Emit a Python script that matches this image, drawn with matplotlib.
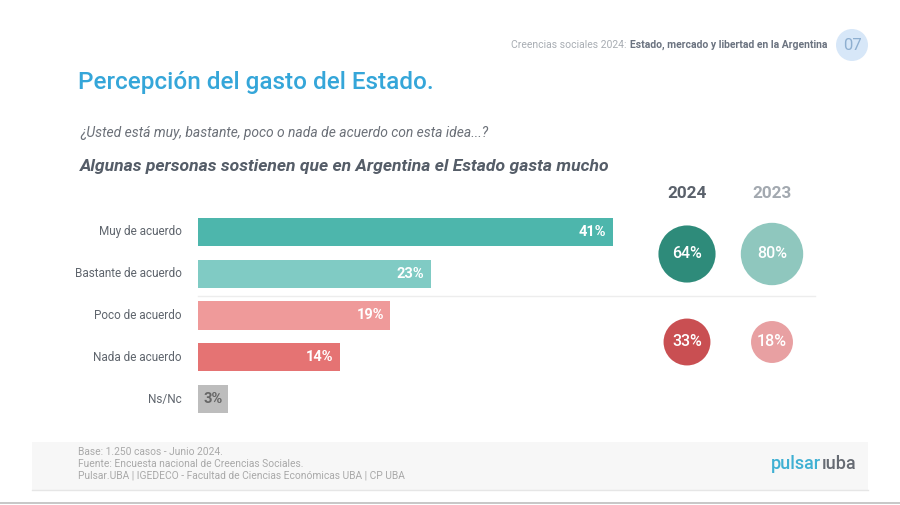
import matplotlib.pyplot as plt
from matplotlib.patches import Circle, Rectangle

plt.rcParams['font.family'] = ['Roboto', 'DejaVu Sans']

# datos
categorias = ['Muy de acuerdo', 'Bastante de acuerdo', 'Poco de acuerdo',
              'Nada de acuerdo', 'Ns/Nc']
valores = [41, 23, 19, 14, 3]
colores = ['#4DB6AC', '#80CBC4', '#EF9A9A', '#E57373', '#BDBDBD']

anios = ['2024', '2023']
acuerdo = [64, 80]
desacuerdo = [33, 18]

W, H = 900, 505
fig = plt.figure(figsize=(W / 100, H / 100), dpi=100)
fig.patch.set_facecolor('white')
renderer = fig.canvas.get_renderer()

# fondo en coordenadas de pixel
bg = fig.add_axes([0, 0, 1, 1])
bg.set_xlim(0, W)
bg.set_ylim(H, 0)
bg.axis('off')


def ancho(t):
    # ancho del texto en pixeles
    return t.get_window_extent(renderer).width


# encabezado
t1 = bg.text(827, 45, 'Estado, mercado y libertad en la Argentina', ha='right', va='center',
             fontsize=7.5, color='#6B7380', fontweight='bold')
bg.text(827 - ancho(t1) - 3, 45, 'Creencias sociales 2024:', ha='right', va='center',
        fontsize=7.5, color='#A8ADB3')
bg.add_patch(Circle((852, 45), 16, color='#D7E7F8', lw=0))
bg.add_patch(Rectangle((868, 0), 40, 90, color='white', lw=0, zorder=3))
bg.text(853, 45, '07', ha='center', va='center', fontsize=12, color='#8EAFD0', zorder=2)

# titulos
bg.text(78, 82, 'Percepción del gasto del Estado.', ha='left', va='center',
        fontsize=17.5, color='#35A6D9', fontweight='medium')
bg.text(80, 133, '¿Usted está muy, bastante, poco o nada de acuerdo con esta idea...?',
        ha='left', va='center', fontsize=10, color='#6B7078', style='italic')
bg.text(80, 167, 'Algunas personas sostienen que en Argentina el Estado gasta mucho',
        ha='left', va='center', fontsize=12.6, color='#555D68', style='italic',
        fontweight='bold')

# pie de pagina
bg.add_patch(Rectangle((32, 442), 836, 48, color='#F7F7F7', lw=0))
bg.plot([32, 868], [490, 490], color='#E6E6E6', lw=1)
bg.plot([0, W], [503, 503], color='#BDBDBD', lw=1.2)
pie = ['Base: 1.250 casos - Junio 2024.',
       'Fuente: Encuesta nacional de Creencias Sociales.',
       'Pulsar.UBA | IGEDECO - Facultad de Ciencias Económicas UBA | CP UBA']
for i, t in enumerate(pie):
    bg.text(78, 452 + i * 12, t, ha='left', va='center', fontsize=7.4, color='#A9A9A9')
lg = bg.text(771, 464, 'pulsar', ha='left', va='center', fontsize=13, color='#3FB0D3',
             fontweight='medium')
bg.text(771 + ancho(lg) + 1, 464, 'ıuba', ha='left', va='center', fontsize=13,
        color='#666B73', fontweight='medium')

# linea divisoria
bg.plot([198, 815], [296, 296], color='#EDEDED', lw=1, zorder=0)

# barras
ax = fig.add_axes([198 / W, 1 - 420 / H, 455 / W, 209 / H])
ax.set_xlim(0, 45)
ax.set_ylim(len(valores) - 0.5, -0.5)
ax.axis('off')
pos = range(len(valores))
ax.barh(pos, valores, height=0.67, color=colores)
for y, v, c in zip(pos, valores, categorias):
    if v > 5:
        ax.text(v - 0.6, y, f'{v}%', ha='right', va='center', fontsize=10.5,
                color='white', fontweight='bold')
    else:
        ax.text(v / 2, y, f'{v}%', ha='center', va='center', fontsize=10.5,
                color='#666666', fontweight='bold')
    ax.text(-1.6, y, c, ha='right', va='center', fontsize=8.5, color='#5F656D')

# circulos resumen
cx = [687, 772]
col_ac = ['#2E8B7A', '#8FC7BE']
col_de = ['#C94F52', '#E8A0A2']
col_anio = ['#5A616B', '#A3A9B0']
for x, a, d, ca, cd, ct, lab in zip(cx, acuerdo, desacuerdo, col_ac, col_de, col_anio, anios):
    bg.text(x, 194, lab, ha='center', va='center', fontsize=12.3, color=ct, fontweight='bold')
    bg.add_patch(Circle((x, 254), 18 + 0.165 * a, color=ca, lw=0))
    bg.text(x, 254, f'{a}%', ha='center', va='center', fontsize=11.5, color='white',
            fontweight='medium')
    bg.add_patch(Circle((x, 342), 18 + 0.165 * d, color=cd, lw=0))
    bg.text(x, 342, f'{d}%', ha='center', va='center', fontsize=11.5, color='white',
            fontweight='medium')

fig.savefig('out.png', dpi=100)
